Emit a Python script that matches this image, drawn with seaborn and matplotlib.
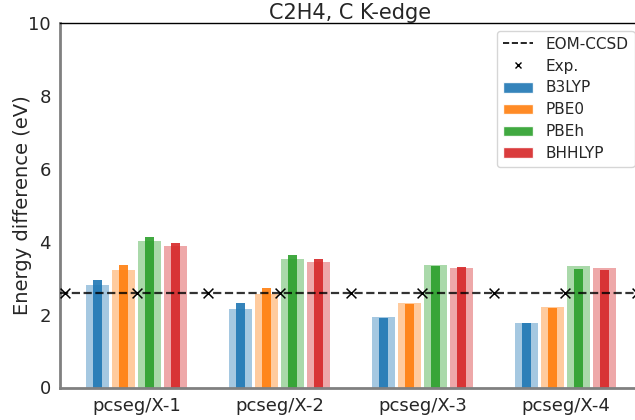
import matplotlib
matplotlib.use("Agg")
import matplotlib.pyplot as plt
import seaborn as sns
import pandas as pd
from matplotlib.lines import Line2D
from matplotlib.patches import Patch

basis_sets = ["pcseg/X-1", "pcseg/X-2", "pcseg/X-3", "pcseg/X-4"]
functionals = ["B3LYP", "PBE0", "PBEh", "BHHLYP"]

# light (wide) bars
b3lyp_light = [2.82, 2.15, 1.93, 1.77]
pbe0_light = [3.23, 2.56, 2.32, 2.21]
pbeh_light = [4.03, 3.52, 3.36, 3.33]
bhhlyp_light = [3.89, 3.44, 3.28, 3.28]

# dark (narrow) bars
b3lyp_dark = [2.96, 2.32, 1.91, 1.77]
pbe0_dark = [3.37, 2.73, 2.29, 2.18]
pbeh_dark = [4.14, 3.63, 3.33, 3.25]
bhhlyp_dark = [3.97, 3.52, 3.30, 3.22]

eom_ccsd = 2.58
exp_x = [-0.5, 0, 0.5, 1, 1.5, 2, 2.5, 3, 3.5]
exp_y = [2.58] * len(exp_x)

sns.set_style("white")
plt.rcParams['font.family'] = ['DejaVu Sans']

def make_df(series):
    rows = []
    for f, vals in zip(functionals, series):
        for b, v in zip(basis_sets, vals):
            rows.append({"basis": b, "functional": f, "value": v})
    return pd.DataFrame(rows)

df_light = make_df([b3lyp_light, pbe0_light, pbeh_light, bhhlyp_light])
df_dark = make_df([b3lyp_dark, pbe0_dark, pbeh_dark, bhhlyp_dark])

palette = sns.color_palette("tab10", 4)

fig = plt.figure(figsize=(6.35, 4.2), dpi=100)
ax = fig.add_axes([60/635, 32.5/420, 581/635, 364.5/420])

sns.barplot(data=df_light, x="basis", y="value", hue="functional", order=basis_sets,
            hue_order=functionals, palette=palette, width=0.72, gap=0.11,
            alpha=0.4, saturation=1, legend=False, ax=ax, errorbar=None, linewidth=0)
sns.barplot(data=df_dark, x="basis", y="value", hue="functional", order=basis_sets,
            hue_order=functionals, palette=palette, width=0.72, gap=0.65,
            alpha=0.9, saturation=1, legend=False, ax=ax, errorbar=None, linewidth=0)

ax.axhline(eom_ccsd, color="black", ls="--", lw=1.6, alpha=0.8, zorder=3)
ax.scatter(exp_x, exp_y, marker="x", color="black", s=50, lw=1.1, zorder=4)

ax.set_xlim(-0.535, 3.528)
ax.set_ylim(0, 10)
ax.set_yticks([0, 2, 4, 6, 8, 10])
ax.set_xlabel("")
ax.set_ylabel("")
fig.text(22.5/635, 215/420, "Energy difference (eV)", rotation=90,
         ha="center", va="center", fontsize=14)
ax.set_title("C2H4, C K-edge", fontsize=15, pad=3)
ax.tick_params(axis="both", labelsize=13, length=3.5, pad=3, color="gray")

for side in ["left", "bottom"]:
    ax.spines[side].set_color("gray")
    ax.spines[side].set_linewidth(2)
ax.spines["top"].set_color("black")
ax.spines["top"].set_linewidth(1)
ax.spines["right"].set_visible(False)

handles = [Line2D([0], [0], color="black", ls="--", lw=1.2, label="EOM-CCSD"),
           Line2D([0], [0], color="black", marker="x", ls="none", markersize=5, label="Exp.")]
for f, c in zip(functionals, palette):
    handles.append(Patch(facecolor=c, alpha=0.9, label=f))
ax.legend(handles=handles, loc="upper right", fontsize=11, frameon=True,
          bbox_to_anchor=(1.002, 1.0), borderaxespad=0.5, labelspacing=0.45)

fig.savefig("out.png", dpi=100)
